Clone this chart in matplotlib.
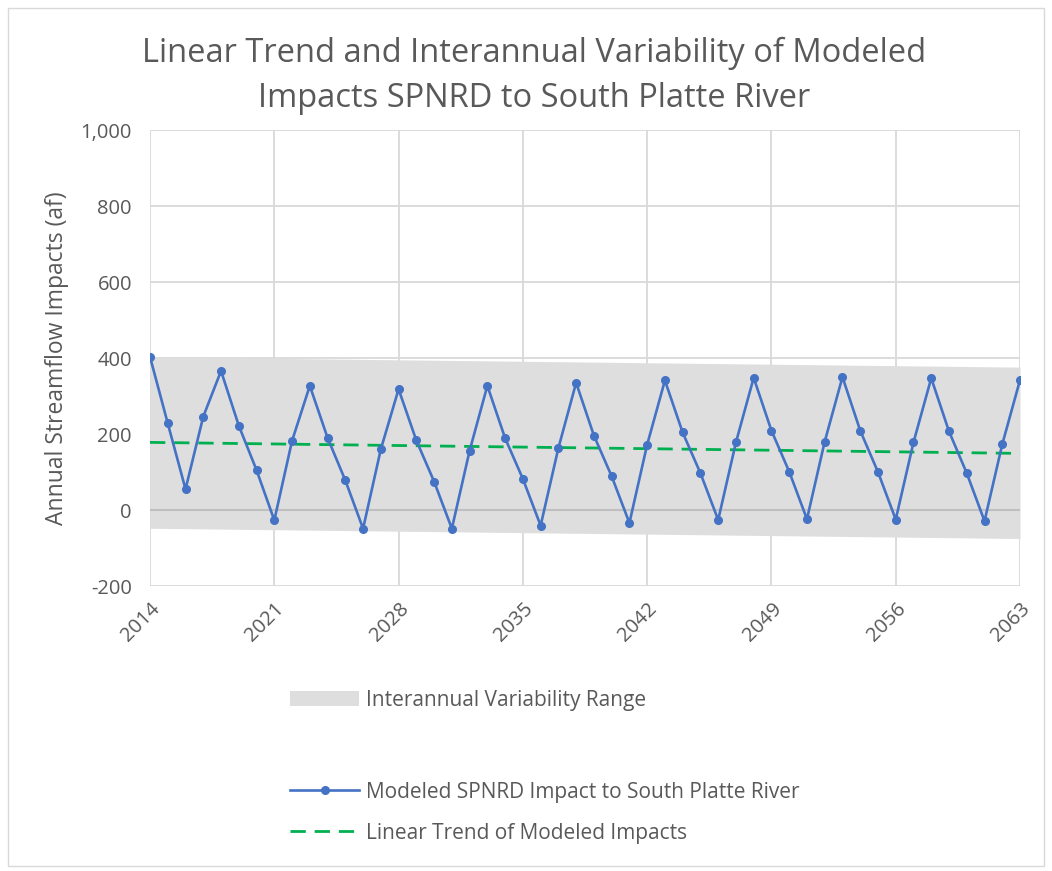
import numpy as np
import matplotlib
matplotlib.use("Agg")
import matplotlib.pyplot as plt
from matplotlib.lines import Line2D
from matplotlib.patches import Patch
from matplotlib.ticker import FuncFormatter

plt.rcParams['font.family'] = ['Open Sans', 'DejaVu Sans']

# yearly modeled impacts (af)
years = list(range(2014, 2064))
impacts = [403, 228, 55, 246, 366, 222, 105, -27, 182, 327,
           190, 78, -49, 160, 318, 183, 75, -49, 156, 327,
           189, 82, -41, 163, 335, 196, 89, -34, 172, 341,
           204, 97, -26, 178, 348, 209, 101, -24, 180, 350,
           209, 100, -25, 178, 347, 207, 97, -29, 173, 342]

# trend line and variability band, end values
trend_years = [2014, 2063]
trend_vals = [178, 149]
band_upper = [403, 376]
band_lower = [-48, -75]

xtick_years = [2014, 2021, 2028, 2035, 2042, 2049, 2056, 2063]

grey_txt = '#595959'

fig = plt.figure(figsize=(10.52, 8.71), dpi=100)
ax = fig.add_axes([0.1426, 0.3272, 0.827, 0.5235])

ax.fill_between(trend_years, band_lower, band_upper, color='#dedede', lw=0, zorder=1)
ax.axhline(0, color='#bfbfbf', lw=1.5, zorder=2)
ax.plot(years, impacts, color='#4472c4', lw=1.9, marker='o', ms=5.5, zorder=4)
ax.plot(trend_years, trend_vals, color='#00b050', lw=2.0, ls=(0, (5.5, 3.2)), zorder=3)

ax.set_xlim(2014, 2063)
ax.set_ylim(-200, 1000)
ax.set_xticks(xtick_years)
ax.set_xticklabels([str(y) for y in xtick_years], rotation=45, ha='right',
                   rotation_mode='anchor', fontsize=14.5, color=grey_txt)
ax.set_yticks(range(-200, 1001, 200))
ax.yaxis.set_major_formatter(FuncFormatter(lambda v, p: f'{int(v):,}'))
ax.tick_params(axis='y', labelsize=14.5, labelcolor=grey_txt, length=0, pad=13)
ax.tick_params(axis='x', length=0, pad=9)
ax.grid(True, color='#d9d9d9', lw=1.3, zorder=0)
ax.set_axisbelow(True)
for s in ax.spines.values():
    s.set_visible(False)

ax.set_ylabel('Annual Streamflow Impacts (af)', fontsize=16.5, color=grey_txt, labelpad=8)

fig.suptitle('Linear Trend and Interannual Variability of Modeled\nImpacts SPNRD to South Platte River',
             x=0.508, y=0.958, fontsize=23.5, color=grey_txt, linespacing=1.5)

# legends below the plot
h1 = [Patch(facecolor='#dedede', edgecolor='none')]
leg1 = fig.legend(h1, ['Interannual Variability Range'], loc='center left',
                  bbox_to_anchor=(0.258, 0.196), frameon=False, fontsize=15,
                  handlelength=3.3, handleheight=0.7, handletextpad=0.35, labelcolor=grey_txt)
h2 = [Line2D([], [], color='#4472c4', lw=1.9, marker='o', ms=5.5),
      Line2D([], [], color='#00b050', lw=2.0, ls=(0, (5.5, 3.2)))]
leg2 = fig.legend(h2, ['Modeled SPNRD Impact to South Platte River', 'Linear Trend of Modeled Impacts'],
                  loc='center left', bbox_to_anchor=(0.258, 0.067), frameon=False,
                  fontsize=15, handlelength=3.3, handletextpad=0.35, labelspacing=0.95,
                  labelcolor=grey_txt)

# outer chart border
fig.patches.append(plt.Rectangle((0.008, 0.006), 0.984, 0.985, transform=fig.transFigure,
                                 fill=False, edgecolor='#d9d9d9', lw=1))

fig.savefig('out.png', dpi=100)
